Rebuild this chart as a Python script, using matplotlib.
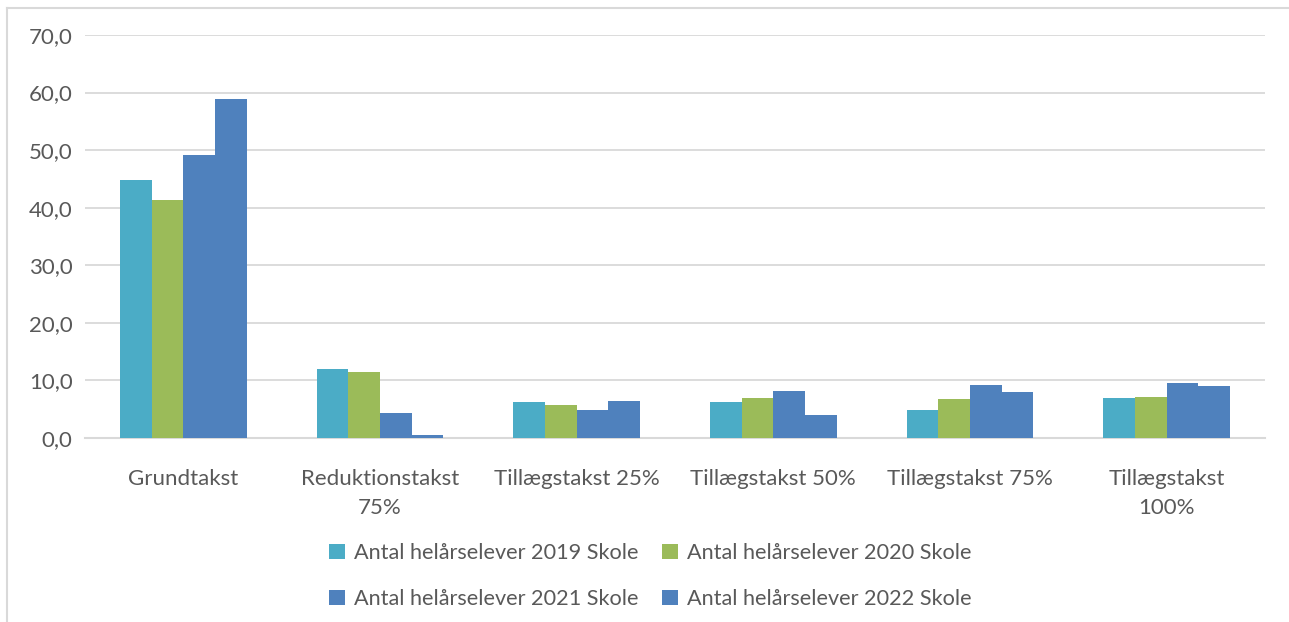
import matplotlib
matplotlib.use("Agg")
import matplotlib.pyplot as plt
from matplotlib.lines import Line2D
import numpy as np

categories = ["Grundtakst", "Reduktionstakst\n75%", "Tillægstakst 25%",
              "Tillægstakst 50%", "Tillægstakst 75%", "Tillægstakst\n100%"]
series_names = ["Antal helårselever 2019 Skole", "Antal helårselever 2020 Skole",
                "Antal helårselever 2021 Skole", "Antal helårselever 2022 Skole"]
v2019 = [44.8, 12.0, 6.2, 6.2, 4.9, 6.9]
v2020 = [41.4, 11.5, 5.7, 6.9, 6.8, 7.1]
v2021 = [49.2, 4.3, 4.9, 8.2, 9.2, 9.6]
v2022 = [58.9, 0.5, 6.4, 4.0, 8.0, 9.0]
yticks = [0, 10, 20, 30, 40, 50, 60, 70]
colors = ["#4BACC6", "#9BBB59", "#4F81BD", "#4F81BD"]

plt.rcParams['font.family'] = ['Lato', 'DejaVu Sans']
txt = "#595959"
fs = 16

W, H = 1289, 622
fig = plt.figure(figsize=(W / 100, H / 100), dpi=100)
ax = fig.add_axes([85 / W, 1 - 438 / H, 1180 / W, 403 / H])

x = np.arange(len(categories))
bw = 0.1614
all_vals = [v2019, v2020, v2021, v2022]
handles = []
for i, (vals, c, name) in enumerate(zip(all_vals, colors, series_names)):
    h = ax.bar(x + (i - 1.5) * bw, vals, width=bw, color=c, label=name, zorder=3,
               linewidth=0)
    handles.append(h)

ax.set_xlim(-0.5, len(categories) - 0.5)
ax.set_ylim(0, 70)
ax.set_yticks(yticks)
ax.set_yticklabels([f"{v:.1f}".replace(".", ",") for v in yticks])
ax.set_xticks(x)
ax.set_xticklabels(categories, linespacing=1.6)
ax.tick_params(axis='both', length=0, labelsize=fs, colors=txt)
ax.tick_params(axis='y', pad=9)
ax.tick_params(axis='x', pad=22)
ax.grid(axis='y', color="#D9D9D9", linewidth=1.3, zorder=0)
for s in ["top", "right", "left"]:
    ax.spines[s].set_visible(False)
ax.spines["bottom"].set_color("#D9D9D9")
ax.spines["bottom"].set_linewidth(1.5)

order = [0, 2, 1, 3]
leg = fig.legend([handles[i] for i in order], [series_names[i] for i in order],
                 loc="center", bbox_to_anchor=(650 / W, 1 - 576 / H), ncol=2,
                 frameon=False, fontsize=15.6, handlelength=0.75, handleheight=0.75,
                 handletextpad=0.4, columnspacing=1.1, labelspacing=1.2)
for t in leg.get_texts():
    t.set_color(txt)

# outer chart frame
fig.add_artist(Line2D([7 / W, 7 / W], [0, 1 - 8 / H], color="#D9D9D9", linewidth=1.5))
fig.add_artist(Line2D([7 / W, 1], [1 - 8 / H, 1 - 8 / H], color="#D9D9D9", linewidth=1.5))

fig.savefig("out.png", dpi=100)
